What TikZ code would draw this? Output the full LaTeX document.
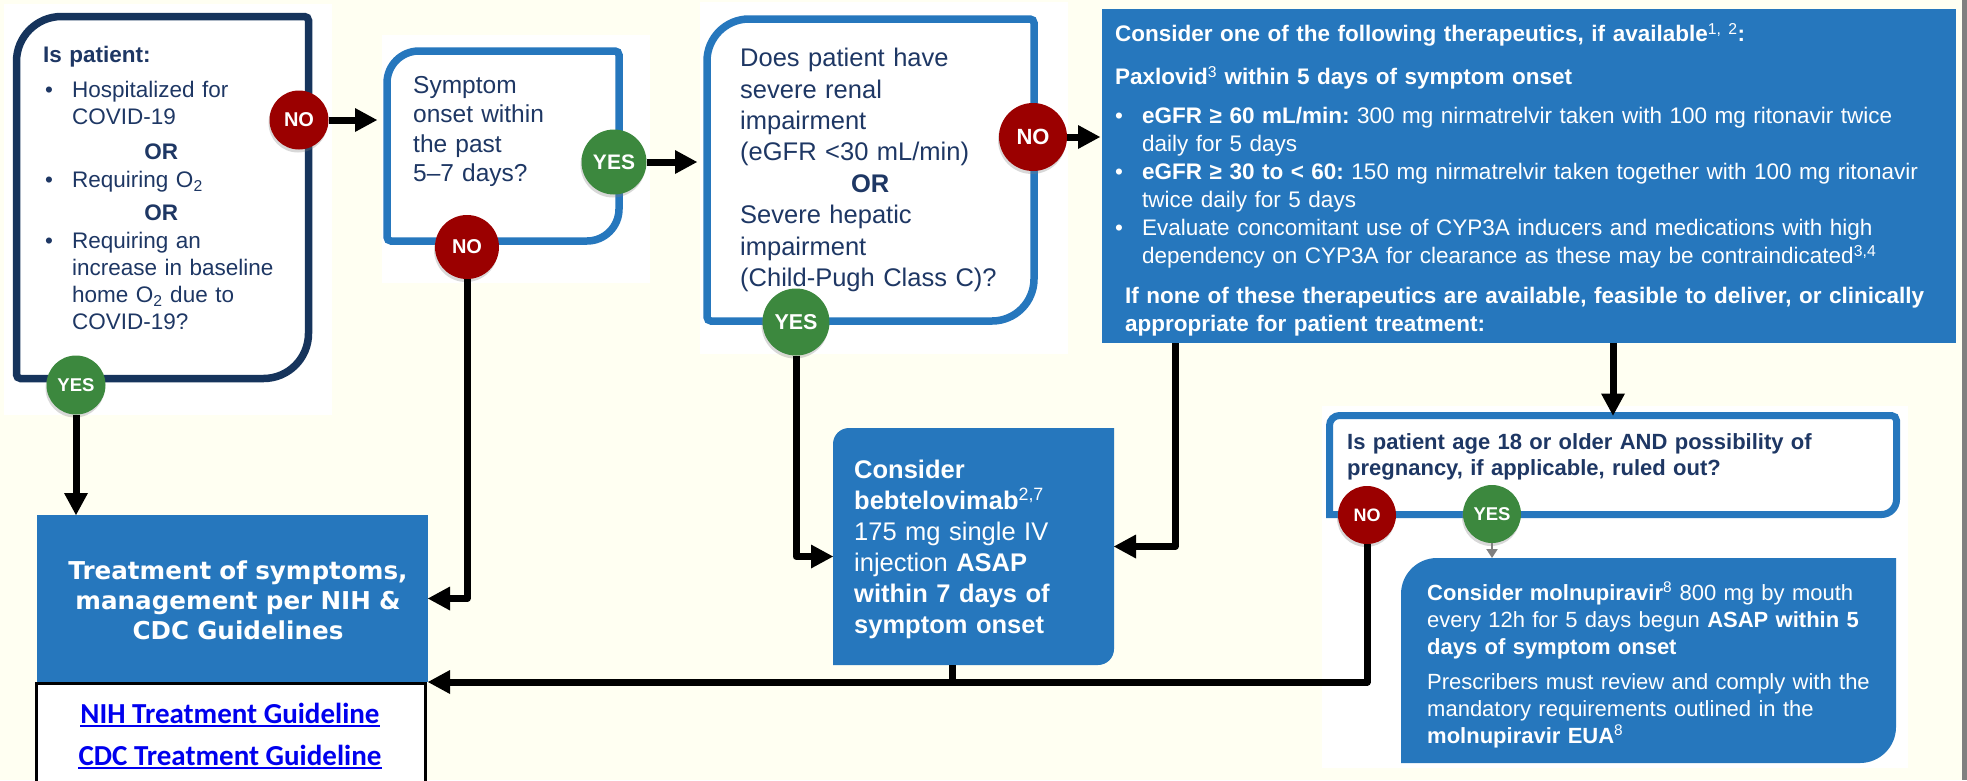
\documentclass[tikz,border=0pt]{standalone}
\usepackage{fontspec}
\setmainfont{Liberation Sans}
\newfontfamily\guidefont{DejaVu Sans}
\newfontfamily\linkfont{Carlito}
\usetikzlibrary{arrows.meta,shadows}
\setlength{\parindent}{0pt}
\frenchspacing
\definecolor{cream}{RGB}{255,255,242}
\definecolor{boxblue}{RGB}{38,119,189}
\definecolor{navyline}{RGB}{22,52,92}
\definecolor{navytext}{RGB}{30,55,100}
\definecolor{nored}{RGB}{155,0,0}
\definecolor{yesgreen}{RGB}{60,136,62}
\definecolor{linkblue}{RGB}{0,0,238}

\begin{document}
\begin{tikzpicture}[x=1pt,y=-1pt,
    frame/.style={anchor=north west,inner sep=0pt,outer sep=0pt},
    qtext/.style={anchor=north west,inner sep=0pt,align=left,text=navytext},
    atext/.style={anchor=north west,inner sep=0pt,align=left,text=white},
    linktext/.style={text=linkblue,inner sep=0pt,font=\linkfont\bfseries\fontsize{29}{34}\selectfont},
    ball/.style={circle,inner sep=0pt,text=white,drop shadow={shadow xshift=-1pt,shadow yshift=-3pt,opacity=0.3}},
    flow/.style={line width=7pt,line join=round,-{Triangle[length=22pt,width=24pt,line width=0pt]}}]

  \fill[cream] (0,0) rectangle (1967,780);
  \useasboundingbox (0,0) rectangle (1967,780);
  \foreach \x/\y/\xx/\yy in {4/4/332/415, 382/35/650/283, 700/2/1068/354, 1322/406/1908/768}
    \fill[white] (\x,\y) rectangle (\xx,\yy);
  \fill[gray] (1962,0) rectangle (1967,780);

  \node[frame,minimum width=292pt,minimum height=362pt] (hosp) at (16.5,16.5) {};
  \node[frame,minimum width=232pt,minimum height=190pt] (onset) at (387,51) {};
  \node[frame,minimum width=327pt,minimum height=302pt] (renal) at (707,19) {};
  \node[frame,minimum width=567pt,minimum height=99pt] (age) at (1329.5,415.5) {};
  \node[frame,minimum width=281pt,minimum height=237pt] (beb) at (833,428) {};
  \node[frame,minimum width=495pt,minimum height=205pt] (molnu) at (1401,558) {};
  \node[frame,fill=boxblue,minimum width=854pt,minimum height=334pt] (pax) at (1102,9) {};
  \node[frame,fill=boxblue,minimum width=391pt,minimum height=167pt] (treat) at (37,515) {};
  \node[frame,draw=black,line width=3pt,fill=white,minimum width=389pt,minimum height=120pt] (links) at (36.5,683.5) {};

  \foreach \n/\c/\R/\s in {hosp/navyline/45/4, onset/boxblue/32/4, renal/boxblue/42/4}
    \draw[draw=\c,line width=7.5pt,fill=white] (\n.north) [rounded corners=\s pt] -- (\n.north east) [rounded corners=\R pt]
      -- (\n.south east) [rounded corners=\s pt] -- (\n.south west) [rounded corners=\R pt] -- (\n.north west) [sharp corners] -- cycle;
  \draw[boxblue,line width=7pt,fill=white] (age.north) [rounded corners=5pt] -- (age.north east) [rounded corners=15pt]
    -- (age.south east) [sharp corners] -- (age.south west) [rounded corners=10pt] -- (age.north west) [sharp corners] -- cycle;
  \foreach \n/\R in {beb/16, molnu/36}
    \fill[boxblue] (\n.north) -- (\n.north east) [rounded corners=\R pt] -- (\n.south east) [sharp corners] -- (\n.south west)
      [rounded corners=\R pt] -- (\n.north west) [sharp corners] -- cycle;

  \node[qtext,text width=275pt,font=\fontsize{22.5}{27}\selectfont] (hosptext) at (43,46) {%
    {\bfseries Is patient:}\\[8pt]
    \hspace*{2pt}\makebox[27pt][l]{\textbullet}Hospitalized for\\
    \hspace*{29pt}COVID-19\\[8pt]
    \makebox[236pt]{\bfseries OR}\\[1pt]
    \hspace*{2pt}\makebox[27pt][l]{\textbullet}Requiring O\textsubscript{2}\\[6pt]
    \makebox[236pt]{\bfseries OR}\\[1pt]
    \hspace*{2pt}\makebox[27pt][l]{\textbullet}Requiring an\\
    \hspace*{29pt}increase in baseline\\
    \hspace*{29pt}home O\textsubscript{2} due to\\
    \hspace*{29pt}COVID-19?};
  \node[qtext,text width=200pt,font=\fontsize{24.5}{29.5}\selectfont] (onsettext) at (413,76)
    {Symptom\\ onset within\\ the past\\ 5–7 days?};
  \node[qtext,text width=290pt,font=\fontsize{25.5}{31.4}\selectfont] (renaltext) at (740,48) {%
    Does patient have\\ severe renal\\ impairment\\ (eGFR <30 mL/min)\\
    \makebox[260pt]{\bfseries OR}\\ Severe hepatic\\ impairment\\ (Child-Pugh Class C)?};
  \node[atext,text width=835pt,font=\fontsize{22.5}{28}\selectfont] (paxtext) at (1115,23) {%
    {\bfseries Consider one of the following therapeutics, if available}\textsuperscript{1, 2}{\bfseries :}\\[15pt]
    {\bfseries Paxlovid}\textsuperscript{3} {\bfseries within 5 days of symptom onset}\\[11pt]
    \makebox[27pt][l]{\textbullet}{\bfseries eGFR ≥ 60 mL/min:} 300 mg nirmatrelvir taken with 100 mg ritonavir twice\\
    \hspace*{27pt}daily for 5 days\\
    \makebox[27pt][l]{\textbullet}{\bfseries eGFR ≥ 30 to < 60:} 150 mg nirmatrelvir taken together with 100 mg ritonavir\\
    \hspace*{27pt}twice daily for 5 days\\
    \makebox[27pt][l]{\textbullet}Evaluate concomitant use of CYP3A inducers and medications with high\\
    \hspace*{27pt}dependency on CYP3A for clearance as these may be contraindicated\textsuperscript{3,4}\\[12pt]
    \hspace*{10pt}{\bfseries If none of these therapeutics are available, feasible to deliver, or clinically}\\
    \hspace*{10pt}{\bfseries appropriate for patient treatment:}};
  \node[qtext,text width=540pt,font=\bfseries\fontsize{22}{26}\selectfont] (agetext) at (1347,433)
    {Is patient age 18 or older AND possibility of\\ pregnancy, if applicable, ruled out?};
  \node[atext,text width=250pt,font=\fontsize{25.5}{31}\selectfont] (bebtext) at (854,460) {%
    {\bfseries Consider}\\ {\bfseries bebtelovimab}\textsuperscript{2,7}\\ 175 mg single IV\\
    injection {\bfseries ASAP}\\ {\bfseries within 7 days of}\\ {\bfseries symptom onset}};
  \node[atext,text width=465pt,font=\fontsize{22}{27}\selectfont] (molnutext) at (1427,582) {%
    {\bfseries Consider molnupiravir}\textsuperscript{8} 800 mg by mouth\\
    every 12h for 5 days begun {\bfseries ASAP within 5}\\
    {\bfseries days of symptom onset}\\[8pt]
    Prescribers must review and comply with the\\
    mandatory requirements outlined in the\\
    {\bfseries molnupiravir EUA}\textsuperscript{8}};
  \node[text=white,align=center,text width=390pt,inner sep=0pt,font=\guidefont\bfseries\fontsize{24.6}{30}\selectfont] (treattext) at (238,600)
    {Treatment of symptoms,\\ management per NIH \&\\ CDC Guidelines};
  \node[linktext] (nihlink) at (230,713) {NIH Treatment Guideline};
  \node[linktext] (cdclink) at (230,755) {CDC Treatment Guideline};
  \foreach \n in {nihlink,cdclink}
    \draw[linkblue,line width=2pt] ([yshift=-3pt]\n.base west) -- ([yshift=-3pt]\n.base east);

  \foreach \nm/\fc/\lab/\x/\y/\d/\f in {hno/nored/NO/299/120/59/20, hyes/yesgreen/YES/76/385/59/18.5,
      ono/nored/NO/467/247/64/20, oyes/yesgreen/YES/614/162/65/21,
      rno/nored/NO/1033/137/68/22, ryes/yesgreen/YES/796/322/67/21.5,
      ano/nored/NO/1367/515/58/18, ayes/yesgreen/YES/1492/514/58/18.5}
    \node[ball,fill=\fc,minimum size=\d pt,font=\bfseries\fontsize{\f}{\f}\selectfont] (\nm) at (\x,\y) {\lab};

  \draw[flow,shorten >=10pt] (hno) -- (hno -| onset.west);
  \draw[flow,shorten >=10pt] (oyes) -- (oyes -| renal.west);
  \draw[flow,shorten >=2pt] (rno) -- (rno -| pax.west);
  \draw[flow] (hyes) -- (hyes |- treat.north);
  \draw[flow] (ono) |- (treat.east);
  \draw[flow] (ryes) |- ([yshift=-10pt]beb.west);
  \draw[flow] ([xshift=73pt]pax.south west) |- (beb.east);
  \draw[flow] (age.north |- pax.south) -- (age.north);
  \draw[flow] (ano) |- (treat.south east);
  \draw[line width=7pt] ([xshift=-21pt]beb.south) -- ([xshift=-21pt]beb.south |- treat.south east);
  \draw[gray,line width=2pt,-{Triangle[length=9pt,width=11pt]}] (ayes) -- (ayes |- molnu.north);
\end{tikzpicture}
\end{document}
